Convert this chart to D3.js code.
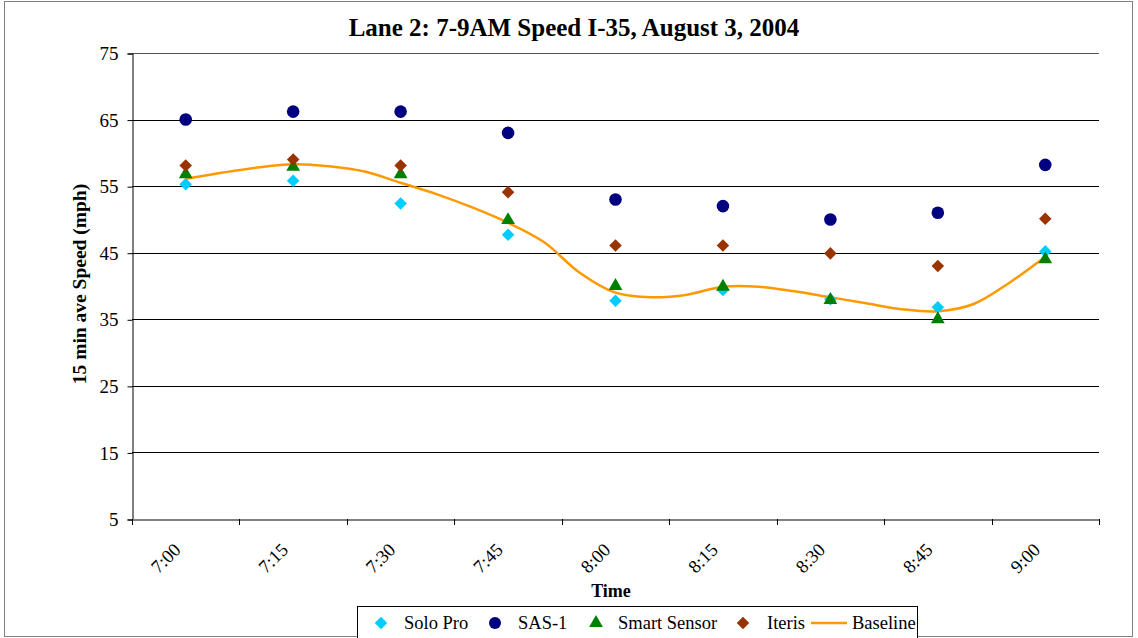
<!DOCTYPE html>
<html>
<head>
<meta charset="utf-8">
<script src="https://cdn.jsdelivr.net/npm/d3@7"></script>
<style>
body { margin: 0; background: #fff; }
text { font-family: "Liberation Serif", "Times New Roman", serif; fill: #000; }
</style>
</head>
<body>
<svg id="chart" width="1138" height="638"></svg>
<script>
// categories (15 min bins)
var times = ["7:00", "7:15", "7:30", "7:45", "8:00", "8:15", "8:30", "8:45", "9:00"];

// sensor readings, mph
var soloPro = [55.3, 55.8, 52.4, 47.7, 37.8, 39.4, 38.0, 36.8, 45.2];
var sas1 = [65, 66.2, 66.2, 63, 53, 52, 50, 51, 58.2];
var smartSensor = [56.8, 57.9, 56.8, 49.9, 40, 39.9, 37.9, 35, 44];
var iteris = [58.1, 59, 58.1, 54.1, 46.1, 46.1, 44.9, 43, 50.1];

// baseline, every 5 minutes from 7:00 (minutes since 7:00)
var baseMinutes = [0, 5, 10, 15, 20, 25, 30, 35, 40, 45, 50, 55, 60, 65, 70, 75, 80, 85, 90, 95, 100, 105, 110, 115, 120];
var baseline = [56.1, 57.0, 57.8, 58.3, 58.0, 57.2, 55.5, 53.8, 51.8, 49.5, 46.6, 42.0, 39.0, 38.3, 38.7, 39.9, 39.9, 39.2, 38.3, 37.4, 36.5, 36.2, 37.3, 40.5, 44.4];

var yTicks = [5, 15, 25, 35, 45, 55, 65, 75];

var svg = d3.select("#chart");
var plotLeft = 132, plotRight = 1099, plotTop = 53, plotBottom = 519;

// outer frame
svg.append("rect")
	.attr("x", 4.5).attr("y", 1.5)
	.attr("width", 1128).attr("height", 635)
	.attr("fill", "none")
	.attr("stroke", "#808080")
	.attr("stroke-width", 1);

var x = d3.scalePoint().domain(times).range([plotLeft, plotRight]).padding(0.5);
var xBand = d3.scaleBand().domain(times).range([plotLeft, plotRight]);
var xMin = d3.scaleLinear().domain([0, 120]).range([x("7:00"), x("9:00")]);
var y = d3.scaleLinear().domain([5, 75]).range([plotBottom, plotTop]);

// gridlines
svg.append("g")
	.selectAll("line")
	.data(yTicks.filter(function(d){ return d > 5; }))
	.enter().append("line")
	.attr("x1", plotLeft).attr("x2", plotRight)
	.attr("y1", function(d){ return Math.round(y(d)) + 0.5; })
	.attr("y2", function(d){ return Math.round(y(d)) + 0.5; })
	.attr("stroke", function(d){ return d == 75 ? "#555" : "#000"; })
	.attr("stroke-width", 1);

// y axis
var yAxis = svg.append("g")
	.attr("transform", "translate(" + (plotLeft + 0.5) + ",0.5)")
	.call(d3.axisLeft(y).tickValues(yTicks).tickSize(5).tickPadding(9));
yAxis.select(".domain").attr("stroke", "#000");
yAxis.selectAll(".tick line").attr("stroke", "#000");
yAxis.selectAll("text")
	.attr("font-family", "Liberation Serif")
	.attr("font-size", 19)
	.attr("fill", "#000");

// x axis
var xAxis = svg.append("g")
	.attr("transform", "translate(0," + (plotBottom + 0.5) + ")")
	.call(d3.axisBottom(xBand).tickSize(0).tickFormat(""));
xAxis.select(".domain").attr("stroke", "#808080").attr("stroke-width", 2);

svg.append("g")
	.selectAll("line")
	.data(times.map(function(t){ return xBand(t); }).concat([plotRight]))
	.enter().append("line")
	.attr("x1", function(d){ return Math.round(d) + 0.5; })
	.attr("x2", function(d){ return Math.round(d) + 0.5; })
	.attr("y1", plotBottom).attr("y2", plotBottom + 6)
	.attr("stroke", "#000");

svg.append("g")
	.selectAll("text")
	.data(times)
	.enter().append("text")
	.attr("transform", function(d){ return "translate(" + (x(d) - 4) + "," + 551 + ") rotate(-45)"; })
	.attr("text-anchor", "end")
	.attr("font-size", 18.5)
	.text(function(d){ return d; });

// titles
svg.append("text")
	.attr("x", 574).attr("y", 36)
	.attr("text-anchor", "middle")
	.attr("font-size", 25)
	.attr("font-weight", "bold")
	.text("Lane 2: 7-9AM Speed I-35, August 3, 2004");

svg.append("text")
	.attr("transform", "translate(86,284) rotate(-90)")
	.attr("text-anchor", "middle")
	.attr("font-size", 19.5)
	.attr("font-weight", "bold")
	.text("15 min ave Speed (mph)");

svg.append("text")
	.attr("x", 611).attr("y", 597)
	.attr("text-anchor", "middle")
	.attr("font-size", 18)
	.attr("font-weight", "bold")
	.text("Time");

// baseline curve
var line = d3.line()
	.x(function(d, i){ return xMin(baseMinutes[i]); })
	.y(function(d){ return y(d); })
	.curve(d3.curveCatmullRom.alpha(0.5));

svg.append("path")
	.datum(baseline)
	.attr("d", line)
	.attr("fill", "none")
	.attr("stroke", "#FF9900")
	.attr("stroke-width", 2.5);

var diamond = d3.symbol().type(d3.symbolDiamond2).size(100);
var triangle = d3.symbol().type(d3.symbolTriangle).size(82);

function points(data, color, kind){
	var g = svg.append("g");
	var sel = g.selectAll("path").data(data).enter();
	if (kind == "circle") {
		sel.append("circle")
			.attr("cx", function(d, i){ return x(times[i]); })
			.attr("cy", function(d){ return y(d); })
			.attr("r", 6.3)
			.attr("fill", color);
	} else {
		sel.append("path")
			.attr("d", kind == "diamond" ? diamond : triangle)
			.attr("transform", function(d, i){ return "translate(" + x(times[i]) + "," + y(d) + ")"; })
			.attr("fill", color);
	}
}

points(soloPro, "#00CCFF", "diamond");
points(sas1, "#000080", "circle");
points(smartSensor, "#008000", "triangle");
points(iteris, "#993300", "diamond");

// legend
var legend = svg.append("g");
legend.append("rect")
	.attr("x", 357.5).attr("y", 606.5)
	.attr("width", 560).attr("height", 40)
	.attr("fill", "#fff")
	.attr("stroke", "#000");

var legendItems = [
	{ name: "Solo Pro", color: "#00CCFF", kind: "diamond", sx: 381, tx: 404 },
	{ name: "SAS-1", color: "#000080", kind: "circle", sx: 495, tx: 518 },
	{ name: "Smart Sensor", color: "#008000", kind: "triangle", sx: 596, tx: 618 },
	{ name: "Iteris", color: "#993300", kind: "diamond", sx: 743, tx: 767 },
	{ name: "Baseline", color: "#FF9900", kind: "line", sx: 829, tx: 852 }
];
var ly = 623;
legendItems.forEach(function(it){
	if (it.kind == "circle") {
		legend.append("circle").attr("cx", it.sx).attr("cy", ly).attr("r", 6).attr("fill", it.color);
	} else if (it.kind == "line") {
		legend.append("line").attr("x1", it.sx - 18).attr("x2", it.sx + 18)
			.attr("y1", ly).attr("y2", ly)
			.attr("stroke", it.color).attr("stroke-width", 2.5);
	} else {
		legend.append("path")
			.attr("d", it.kind == "diamond" ? diamond : triangle)
			.attr("transform", "translate(" + it.sx + "," + ly + ")")
			.attr("fill", it.color);
	}
	legend.append("text")
		.attr("x", it.tx).attr("y", 629)
		.attr("font-size", 18.5)
		.text(it.name);
});
</script>
</body>
</html>
